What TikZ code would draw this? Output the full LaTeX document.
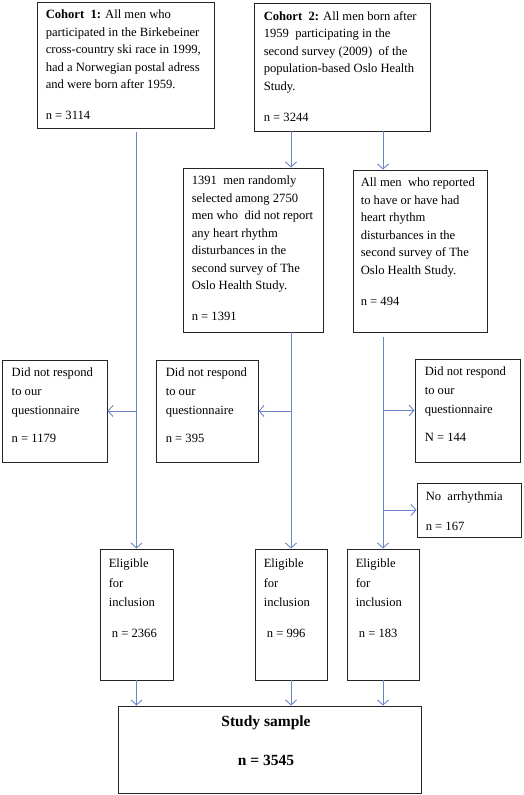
\documentclass[tikz,border=0pt]{standalone}
\usepackage{fontspec}
\setmainfont{Liberation Serif}
\usetikzlibrary{arrows.meta,fit}
\definecolor{conn}{RGB}{105,135,200}
\begin{document}
\begin{tikzpicture}[x=1pt,y=-1pt,
 box/.style={draw=black!85, line width=0.9pt, inner sep=0pt},
 txt/.style={inner sep=0pt, anchor=north west, align=left, font=\fontsize{12.6}{17.5}\selectfont},
 txtb/.style={txt, font=\fontsize{12.6}{19}\selectfont},
 txtc/.style={txt, font=\fontsize{12.6}{19.5}\selectfont},
 big/.style={inner sep=0pt, font=\bfseries\fontsize{15.5}{18}\selectfont},
 arr/.style={draw=conn, line width=0.9pt, -{Straight Barb[length=5pt,width=11pt]}}]
\useasboundingbox (0,0) rectangle (524,795);

% boxes
\node[box, fit={(37,2) (214,128)}] (c1) {};
\node[box, fit={(254,3) (430,131)}] (c2) {};
\node[box, fit={(183,168) (323,332)}] (m1) {};
\node[box, fit={(353,170) (487,332)}] (m2) {};
\node[box, fit={(2,360) (107,462)}] (d1) {};
\node[box, fit={(156,360) (258,462)}] (d2) {};
\node[box, fit={(415,359) (520,462)}] (d3) {};
\node[box, fit={(417,483) (521,537)}] (na) {};
\node[box, fit={(100,549) (173,680)}] (e1) {};
\node[box, fit={(255,549) (327,680)}] (e2) {};
\node[box, fit={(347,549) (419,680)}] (e3) {};
\node[box, fit={(118,706) (421,793)}] (ss) {};

% texts
\node[txt] (c1t) at ([shift={(9,8.5)}]c1.north west)
 {\textbf{Cohort\ \ 1:} All men who\\ participated in the Birkebeiner\\ cross-country ski race in 1999,\\ had a Norwegian postal adress\\ and were born after 1959.\\[13.5pt] n = 3114};
\node[txt] (c2t) at ([shift={(10,8.5)}]c2.north west)
 {\textbf{Cohort\ \ 2:} All men born after\\ 1959\ \ participating in the\\ second survey (2009)\ \ of the\\ population-based Oslo Health\\ Study.\\[13.5pt] n = 3244};
\node[txt] (m1t) at ([shift={(9,8.5)}]m1.north west)
 {1391\ \ men randomly\\ selected among 2750\\ men who\ \ did not report\\ any heart rhythm\\ disturbances in the\\ second survey of The\\ Oslo Health Study.\\[13.5pt] n = 1391};
\node[txt] (m2t) at ([shift={(8,8.5)}]m2.north west)
 {All men\ \ who reported\\ to have or have had\\ heart rhythm\\ disturbances in the\\ second survey of The\\ Oslo Health Study.\\[13.5pt] n = 494};
\node[txtb] (d1t) at ([shift={(10,8)}]d1.north west)
 {Did not respond\\ to our\\ questionnaire\\[9pt] n = 1179};
\node[txtb] (d2t) at ([shift={(10,8)}]d2.north west)
 {Did not respond\\ to our\\ questionnaire\\[9pt] n = 395};
\node[txtb] (d3t) at ([shift={(10,8)}]d3.north west)
 {Did not respond\\ to our\\ questionnaire\\[9pt] N = 144};
\node[txt] (nat) at ([shift={(9,9)}]na.north west)
 {No\ \ arrhythmia\\[12.5pt] n = 167};
\node[txtc] (e1t) at ([shift={(9,10)}]e1.north west)
 {Eligible\\ for\\ inclusion\\[11.5pt] \ n = 2366};
\node[txtc] (e2t) at ([shift={(9,10)}]e2.north west)
 {Eligible\\ for\\ inclusion\\[11.5pt] \ n = 996};
\node[txtc] (e3t) at ([shift={(9,10)}]e3.north west)
 {Eligible\\ for\\ inclusion\\[11.5pt] \ n = 183};
\node[big] (sst) at (266,723) {Study sample};
\node[big] (ssn) at (266,760) {n = 3545};

% connectors
\draw[arr, shorten <=4pt] (e1.north |- c1.south) -- (e1.north);
\draw[arr] (e1.north |- d1.east) -- (d1.east);
\draw[arr] (e2.north |- c2.south) -- (e2.north |- m1.north);
\draw[arr] (e3.north |- c2.south) -- (e3.north |- m2.north);
\draw[arr] (e2.north |- m1.south) -- (e2.north);
\draw[arr] (e2.north |- d2.east) -- (d2.east);
\draw[arr, shorten <=5pt] (e3.north |- m2.south) -- (e3.north);
\draw[arr] (e3.north |- d3.west) -- (d3.west);
\draw[arr] (e3.north |- na.west) -- (na.west);
\draw[arr] (e1.south) -- (e1.south |- ss.north);
\draw[arr] (e2.south) -- (e2.south |- ss.north);
\draw[arr] (e3.south) -- (e3.south |- ss.north);
\end{tikzpicture}
\end{document}
